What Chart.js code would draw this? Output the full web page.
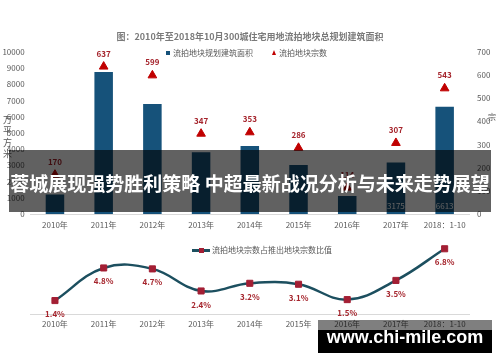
<!DOCTYPE html>
<html>
<head>
<meta charset="utf-8">
<script src="https://cdn.jsdelivr.net/npm/chart.js@4.4.0/dist/chart.umd.min.js"></script>
<style>
    body { margin: 0; background: #fff; }
    #wrap { position: relative; width: 500px; height: 362px; overflow: hidden; background: #fff;
            font-family: 'Noto Sans CJK SC', 'Noto Sans', sans-serif; }
    canvas { position: absolute; left: 0; }
    #topChart { top: 0; }
    #bottomChart { top: 235px; }
    .txt { position: absolute; font-size: 8px; line-height: 10px; color: #595959; white-space: nowrap; }
    .box { position: absolute; }
    #banner { position: absolute; left: 9px; top: 150px; width: 482px; height: 62px;
              background: rgba(0, 0, 0, 0.62); color: #fff; font-size: 19px; font-weight: bold;
              line-height: 66px; text-align: center; white-space: nowrap; }
    #markBand { position: absolute; left: 318px; top: 320px; width: 174px; height: 10px; background: rgba(0, 0, 0, 0.5); }
    #markBox { position: absolute; left: 318px; top: 330px; width: 174px; height: 23px; background: #000; }
    #markText { position: absolute; left: 318px; top: 327px; width: 174px; text-align: center; color: #fff;
                font-family: 'Liberation Sans', Arial, sans-serif; font-size: 18px; font-weight: bold; line-height: 20px; }
</style>
</head>
<body>
<div id="wrap">
    <canvas id="topChart" width="500" height="240"></canvas>
    <canvas id="bottomChart" width="500" height="127"></canvas>

    <!-- top legend -->
    <div class="box" style="left:166px;top:51px;width:4px;height:4px;background:#16527a;"></div>
    <div class="txt" style="left:173px;top:48px;">流拍地块规划建筑面积</div>
    <div class="box" style="left:272px;top:50px;width:0;height:0;border-left:2.5px solid transparent;border-right:2.5px solid transparent;border-bottom:5px solid #c00000;"></div>
    <div class="txt" style="left:279px;top:48px;">流拍地块宗数</div>

    <!-- axis units -->
    <div class="txt" style="left:3px;top:114px;font-size:9px;line-height:11.3px;">万<br>平<br>方<br>米</div>
    <div class="txt" style="left:488px;top:112px;">宗</div>

    <!-- bottom legend -->
    <div class="box" style="left:192px;top:249px;width:18px;height:2.5px;background:#1c4f5f;"></div>
    <div class="box" style="left:198.5px;top:247.5px;width:5px;height:5px;background:#a31f34;"></div>
    <div class="txt" style="left:212px;top:245px;">流拍地块宗数占推出地块宗数比值</div>

    <div id="banner">蓉城展现强势胜利策略 中超最新战况分析与未来走势展望</div>

    <div id="markBand"></div>
    <div id="markBox"></div>
    <div id="markText">www.chi-mile.com</div>
</div>

<script>
    // Data
    const years = ['2010年', '2011年', '2012年', '2013年', '2014年', '2015年', '2016年', '2017年', '2018：1-10'];
    const floorArea = [1200, 8770, 6790, 3810, 4200, 3025, 1110, 3175, 6613];   // 万平方米
    const parcelCount = [170, 637, 599, 347, 353, 286, 114, 307, 543];          // 宗
    const ratioPct = [1.4, 4.8, 4.7, 2.4, 3.2, 3.1, 1.5, 3.5, 6.8];             // %
    const areaLabelShown = [false, false, false, false, false, false, false, true, true];
    const areaTicks = { max: 10000, step: 1000 };
    const countTicks = { max: 700, step: 100 };

    Chart.defaults.font.family = "'Noto Sans CJK SC', 'Noto Sans', sans-serif";
    Chart.defaults.color = '#595959';

    // draws the value text next to each bar / point
    const valueLabels = {
        id: 'valueLabels',
        afterDatasetsDraw: function(chart) {
            const ctx = chart.ctx;
            chart.data.datasets.forEach(function(ds, i) {
                const lab = ds.valueLabel;
                if (!lab) return;
                chart.getDatasetMeta(i).data.forEach(function(el, j) {
                    const text = lab.text(ds.data[j], j);
                    if (text === null) return;
                    const y = lab.fromBase ? el.base + lab.dy : el.y + lab.dy;
                    ctx.save();
                    ctx.font = lab.font;
                    ctx.fillStyle = lab.color;
                    ctx.textAlign = 'center';
                    ctx.textBaseline = 'middle';
                    ctx.fillText(text, el.x, y);
                    ctx.restore();
                });
            });
        }
    };

    const tickFont = { size: 8 };
    const fam = "'Noto Sans CJK SC', 'Noto Sans', sans-serif";
    const plainNumber = function(value) { return String(value); };

    new Chart(document.getElementById('topChart'), {
        type: 'bar',
        data: {
            labels: years,
            datasets: [{
                type: 'line',
                label: '流拍地块宗数',
                data: parcelCount,
                yAxisID: 'y1',
                showLine: false,
                pointStyle: 'triangle',
                pointRadius: 5,
                pointBackgroundColor: '#c00000',
                pointBorderColor: '#c00000',
                pointBorderWidth: 1,
                order: 1,
                valueLabel: {
                    text: function(v) { return String(v); },
                    dy: -13,
                    font: 'bold 8px ' + fam,
                    color: '#a5242c'
                }
            }, {
                label: '流拍地块规划建筑面积',
                data: floorArea,
                yAxisID: 'y',
                backgroundColor: '#16527a',
                barPercentage: 0.38,
                categoryPercentage: 1,
                order: 2,
                valueLabel: {
                    text: function(v, j) { return areaLabelShown[j] ? String(v) : null; },
                    fromBase: true,
                    dy: -8,
                    font: '8px ' + fam,
                    color: '#ffffff'
                }
            }]
        },
        options: {
            responsive: false,
            animation: false,
            devicePixelRatio: 1,
            layout: { padding: 0 },
            plugins: {
                legend: { display: false },
                tooltip: { enabled: false },
                title: {
                    display: true,
                    text: '图：2010年至2018年10月300城住宅用地流拍地块总规划建筑面积',
                    color: '#7a7a7a',
                    font: { size: 9, weight: 'bold' },
                    padding: { top: 31.6, bottom: 9.6 }
                }
            },
            scales: {
                x: {
                    grid: { display: false, drawTicks: false },
                    border: { color: '#d9d9d9' },
                    ticks: { font: tickFont, padding: 6, autoSkip: false, maxRotation: 0 },
                    afterFit: function(s) { s.height = 26; }
                },
                y: {
                    position: 'left',
                    min: 0,
                    max: areaTicks.max,
                    grid: { display: false, drawTicks: false },
                    border: { display: false },
                    ticks: { stepSize: areaTicks.step, font: tickFont, padding: 6, callback: plainNumber },
                    afterFit: function(s) { s.width = 30.6; }
                },
                y1: {
                    position: 'right',
                    min: 0,
                    max: countTicks.max,
                    grid: { display: false, drawTicks: false },
                    border: { display: false },
                    ticks: { stepSize: countTicks.step, font: tickFont, padding: 8, callback: plainNumber },
                    afterFit: function(s) { s.width = 31; }
                }
            }
        },
        plugins: [valueLabels]
    });

    new Chart(document.getElementById('bottomChart'), {
        type: 'line',
        data: {
            labels: years,
            datasets: [{
                label: '流拍地块宗数占推出地块宗数比值',
                data: ratioPct,
                borderColor: '#1c4f5f',
                borderWidth: 2.5,
                tension: 0.4,
                pointStyle: 'rect',
                pointRadius: 4.3,
                pointBackgroundColor: '#a31f34',
                pointBorderColor: '#a31f34',
                pointBorderWidth: 1,
                valueLabel: {
                    text: function(v) { return v.toFixed(1) + '%'; },
                    dy: 13.5,
                    font: 'bold 8px ' + fam,
                    color: '#a5242c'
                }
            }]
        },
        options: {
            responsive: false,
            animation: false,
            devicePixelRatio: 1,
            layout: { padding: { left: 30.6, right: 31, top: 8, bottom: 0 } },
            plugins: {
                legend: { display: false },
                tooltip: { enabled: false }
            },
            scales: {
                x: {
                    offset: true,
                    grid: { display: false, drawTicks: false },
                    border: { color: '#d9d9d9' },
                    ticks: { font: tickFont, padding: 5, autoSkip: false, maxRotation: 0 },
                    afterFit: function(s) { s.height = 48; }
                },
                y: { display: false, min: 0, max: 7.4 }
            }
        },
        plugins: [valueLabels]
    });
</script>
</body>
</html>
